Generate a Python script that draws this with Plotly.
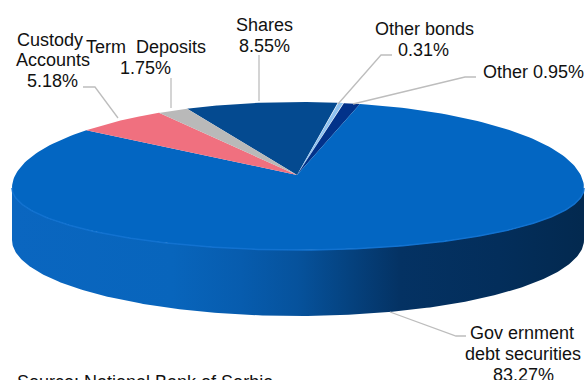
import numpy as np
import plotly.graph_objects as go

# Portfolio structure, clockwise starting at the Shares slice
categories = ["Shares", "Other bonds", "Other", "Government debt securities", "Custody Accounts", "Term Deposits"]
shares_pct = [8.55, 0.31, 0.95, 83.27, 5.18, 1.75]
slice_colors = ["#044A90", "#8FC2F0", "#02328A", "#0366C2", "#F0707F", "#B9B9B9"]
source_note = "Source: National Bank of Serbia"

# Label lines with their centres in pixels
label_lines = ["Shares", "8.55%", "Other bonds", "0.31%", "Other 0.95%",
               "Gov ernment", "debt securities", "83.27%",
               "Custody", "Accounts", "5.18%", "Term  Deposits", "1.75%"]
label_x = [264, 264, 424, 423, 533, 522, 523, 523, 50, 53, 52, 146, 145]
label_y = [25, 46, 29, 50, 72, 333, 354, 375, 40, 60, 81, 47, 68]

# Disc projection, in pixels: the back half of the rim is flatter than the front
CX, RX = 298.0, 286.0
APEX = (297.0, 175.0)
RIM_Y, RY_BACK, RY_FRONT = 188.0, 86.0, 62.0
FLOOR_Y, RY_FLOOR = 240.0, 76.0
START_DEG = -22.8
FONT = "Liberation Sans"
FONT_SIZE = 18
LEADER = "#BDBDBD"


def rim(a_deg, b_deg, n=240):
    t = np.radians(np.linspace(a_deg, b_deg, n))
    c = np.cos(t)
    return CX + RX * np.sin(t), RIM_Y - np.where(c > 0, RY_BACK, RY_FRONT) * c


def floor(a_deg, b_deg, n=240):
    t = np.radians(np.linspace(a_deg, b_deg, n))
    return CX + RX * np.sin(t), FLOOR_Y - RY_FLOOR * np.cos(t)


total = sum(shares_pct)
edges = START_DEG + np.cumsum([0] + shares_pct) * 360.0 / total

fig = go.Figure()

# Side wall of the disc, visible along the front half only
xf, yf = rim(90, 270)
xb, yb = floor(270, 90)
fig.add_trace(go.Scatter(
    x=np.r_[xf, xb], y=np.r_[yf, yb], mode="lines", fill="toself", line=dict(width=0),
    fillgradient=dict(type="horizontal", colorscale=[
        [0.00, "#0A66C0"], [0.28, "#0865BC"], [0.40, "#075CAE"], [0.50, "#06529C"],
        [0.59, "#05427F"], [0.68, "#043263"], [0.85, "#032E5B"], [1.00, "#03294F"]]),
    hoverinfo="skip", showlegend=False))

# Top face, one filled sector per category
for i, name in enumerate(categories):
    x, y = rim(edges[i], edges[i + 1])
    fig.add_trace(go.Scatter(
        x=np.r_[APEX[0], x, APEX[0]], y=np.r_[APEX[1], y, APEX[1]], mode="lines", fill="toself",
        fillcolor=slice_colors[i], line=dict(width=0), name=name,
        hoverinfo="name", showlegend=False))

# Lighter rim where the top face meets the wall
xr, yr = rim(90, 270)
fig.add_trace(go.Scatter(x=xr, y=yr, mode="lines", line=dict(color="#1272D0", width=1.5),
                         hoverinfo="skip", showlegend=False))

# Leader lines from the disc to each label
leaders = [
    ([259, 259], [101, 55]),
    ([338, 381, 392], [104, 55, 55]),
    ([353, 465, 476], [104, 77, 77]),
    ([390, 456, 466], [312, 336, 336]),
    ([118, 95, 83], [118, 87, 87]),
    ([171, 171], [108, 78]),
]
for lx, ly in leaders:
    fig.add_trace(go.Scatter(x=lx, y=ly, mode="lines", line=dict(color=LEADER, width=1.3),
                             hoverinfo="skip", showlegend=False))

for text, lx, ly in zip(label_lines, label_x, label_y):
    fig.add_annotation(x=lx, y=ly, text=text, showarrow=False, xanchor="center", yanchor="middle",
                       font=dict(family=FONT, size=FONT_SIZE, color="#111111"))

fig.add_annotation(x=15, y=378, yshift=-4, text=source_note, showarrow=False, xanchor="left", yanchor="middle",
                   font=dict(family=FONT, size=FONT_SIZE, color="#111111"))

fig.update_layout(
    width=586, height=380, margin=dict(l=0, r=0, t=0, b=0),
    paper_bgcolor="white", plot_bgcolor="white", showlegend=False,
    xaxis=dict(range=[0, 586], visible=False, fixedrange=True),
    yaxis=dict(range=[380, 0], visible=False, fixedrange=True),
)
fig.write_html("out.html")
